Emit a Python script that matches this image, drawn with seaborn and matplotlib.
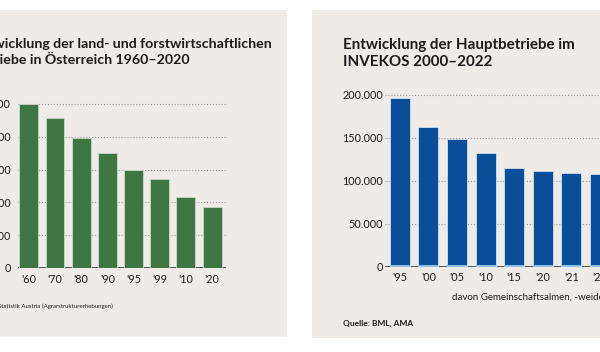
import matplotlib
matplotlib.use('Agg')
import matplotlib.pyplot as plt
from matplotlib.patches import Rectangle
from matplotlib.ticker import FuncFormatter, MultipleLocator
import seaborn as sns

sns.set_style("white")
plt.rcParams['font.family'] = ['Lato', 'DejaVu Sans']

# Betriebe in Oesterreich (Agrarstrukturerhebungen)
years_at = ["'60", "'70", "'80", "'90", "'95", "'99", "'10", "'20"]
betriebe_at = [401000, 366000, 318000, 281000, 239000, 217000, 172000, 150000]

# Hauptbetriebe im INVEKOS, davon Gemeinschaftsalmen/-weiden
years_inv = ["'95", "'00", "'05", "'10", "'15", "'20", "'21", "'22"]
hauptbetriebe = [196000, 163000, 149000, 133000, 114500, 111000, 109500, 108500]
gemeinschaft = [2200, 2300, 2300, 2400, 2400, 2400, 2400, 2400]

green = '#3e7743'
blue = '#0b4e99'
light_blue = '#8fc1e8'
panel_bg = '#efebe7'
text_col = '#1c1c1c'

W, H = 600, 352


def box(left, top, right, bottom):
    # pixel box (from top-left) -> figure fraction rect
    return [left / W, 1 - bottom / H, (right - left) / W, (bottom - top) / H]


def de_thousands(v, pos):
    return f"{int(round(v)):,}".replace(',', '.')


fig = plt.figure(figsize=(6, 3.52), dpi=100, facecolor='white')

# beige panels
for rect in [box(-60, 10, 287, 337), box(312, 10, 660, 338)]:
    fig.add_artist(Rectangle((rect[0], rect[1]), rect[2], rect[3],
                             transform=fig.transFigure, facecolor=panel_bg,
                             edgecolor='none', zorder=0))

# left chart
ax1 = fig.add_axes(box(18, 99.9, 226, 268))
sns.barplot(x=years_at, y=betriebe_at, color=green, saturation=1, width=0.72,
            edgecolor='#c9d8c9', linewidth=0.6, ax=ax1)
ax1.set_xlim(-0.41, 7.53)
ax1.set_ylim(0, 410000)
ax1.yaxis.set_major_locator(MultipleLocator(80000))
ax1.yaxis.set_major_formatter(FuncFormatter(de_thousands))
ax1.tick_params(axis='y', length=0, labelsize=7.8, pad=5, colors=text_col)
ax1.tick_params(axis='x', length=0, labelsize=7.8, pad=4, colors=text_col)

# right chart
ax2 = fig.add_axes(box(385, 90.7, 617, 266.7))
sns.barplot(x=years_inv, y=hauptbetriebe, color=blue, saturation=1, width=0.70,
            edgecolor='#cfdff0', linewidth=0.6, ax=ax2)
sns.barplot(x=years_inv, y=gemeinschaft, color=light_blue, saturation=1, width=0.70,
            linewidth=0, ax=ax2)
ax2.set_xlim(-0.52, 7.6)
ax2.set_ylim(0, 205000)
ax2.yaxis.set_major_locator(MultipleLocator(50000))
ax2.yaxis.set_major_formatter(FuncFormatter(de_thousands))
ax2.tick_params(axis='y', length=0, labelsize=7.8, pad=1.5, colors=text_col)
ax2.tick_params(axis='x', length=0, labelsize=7.8, pad=4, colors=text_col)

for ax in (ax1, ax2):
    ax.set_facecolor('none')
    ax.set_xlabel('')
    ax.set_ylabel('')
    for s in ax.spines.values():
        s.set_visible(False)
    ax.set_axisbelow(True)
    ax.yaxis.grid(True, linestyle=':', color='#9b9b9b', linewidth=0.8)
    ax.axhline(0, color='#3a3a3a', linewidth=1.2, zorder=0.8)

# titles and notes
fig.text(272 / W, 1 - 38 / H,
         "Entwicklung der land- und forstwirtschaftlichen\nBetriebe in Österreich 1960–2020",
         ha='right', va='top', multialignment='left', fontsize=10.2,
         fontweight='bold', color=text_col, linespacing=1.35)
fig.text(343 / W, 1 - 38 / H,
         "Entwicklung der Hauptbetriebe im\nINVEKOS 2000–2022",
         ha='left', va='top', fontsize=10.9, fontweight='bold', color=text_col,
         linespacing=1.3)
fig.text(113 / W, 1 - 306 / H, "Quelle: Statistik Austria (Agrarstrukturerhebungen)",
         ha='right', va='center', fontsize=4.4, color=text_col)
fig.text(452 / W, 1 - 297 / H, "davon Gemeinschaftsalmen, -weiden",
         ha='left', va='center', fontsize=7.0, color=text_col)
fig.text(343 / W, 1 - 323 / H, "Quelle: BML, AMA",
         ha='left', va='center', fontsize=6, fontweight='bold', color=text_col)

fig.savefig('out.png', dpi=100, facecolor='white')
